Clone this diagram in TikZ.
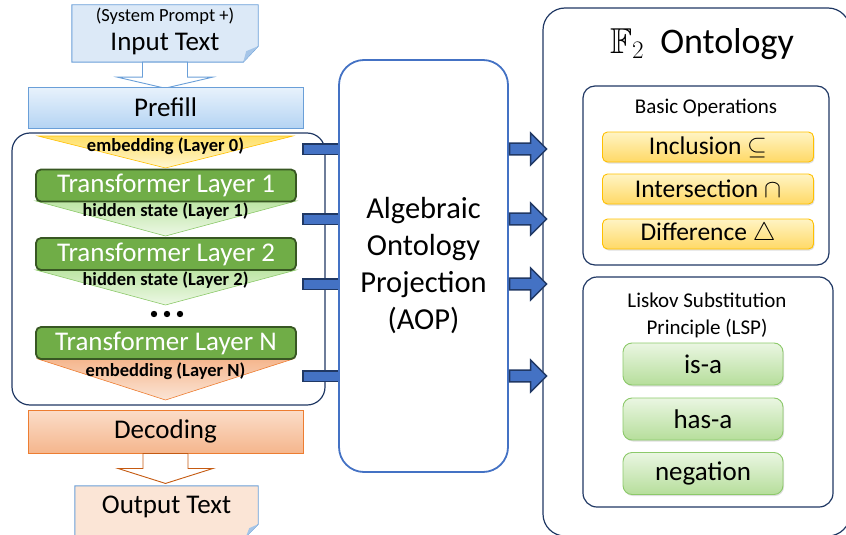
\RequirePackage{fix-cm}
\documentclass[tikz,border=0pt]{standalone}
\usepackage{amsmath,amssymb}
\usepackage{fontspec}
\setmainfont{Carlito}
\usepackage{tikz}
\usetikzlibrary{arrows.meta,positioning,shapes.arrows,shadows}
\definecolor{navy}{HTML}{203864}
\definecolor{docline}{HTML}{6A9FD8}
\definecolor{docfill}{HTML}{DCE9F7}
\definecolor{outfill}{HTML}{FBE5D6}
\definecolor{pretop}{HTML}{E8F2FC}
\definecolor{prebot}{HTML}{B5D4F3}
\definecolor{aopline}{HTML}{4472C4}
\definecolor{barblue}{HTML}{4472C4}
\definecolor{leaf}{HTML}{70AD47}
\definecolor{leafdark}{HTML}{385723}
\definecolor{gold}{HTML}{FFC000}
\definecolor{goldtop}{HTML}{FFF4C4}
\definecolor{goldbot}{HTML}{FFD966}
\definecolor{embtop}{HTML}{FFE066}
\definecolor{embbot}{HTML}{FFF6D2}
\definecolor{hidtop}{HTML}{BDE5A4}
\definecolor{hidbot}{HTML}{EDF8E6}
\definecolor{hidline}{HTML}{8CC96A}
\definecolor{rust}{HTML}{ED7D31}
\definecolor{rustdark}{HTML}{C55A11}
\definecolor{peachtop}{HTML}{FBDDC9}
\definecolor{peachbot}{HTML}{F5B68D}
\definecolor{mint}{HTML}{EAF6E2}
\definecolor{mintbot}{HTML}{B6DE9B}

\begin{document}
\begin{tikzpicture}[x=1pt,y=-1pt,
  every node/.style={inner sep=0pt},
  smalltxt/.style={font=\fontsize{18.5}{21}\selectfont},
  bigtxt/.style={font=\fontsize{27}{30}\selectfont},
  statetxt/.style={font=\fontsize{18.5}{20}\selectfont\bfseries},
  headtxt/.style={font=\fontsize{21}{27}\selectfont,align=center},
  band/.style={draw=docline,line width=0.9pt,minimum width=275pt,bigtxt},
  layerbox/.style={draw=leafdark,fill=leaf,line width=1.8pt,rounded corners=5pt,
                   minimum width=260pt,minimum height=32pt,text=white,bigtxt},
  groupbox/.style={draw=navy,line width=1.2pt,rounded corners=#1},
  opbox/.style={draw=gold,line width=0.9pt,rounded corners=5pt,top color=goldtop,
                bottom color=goldbot,minimum width=211pt,minimum height=30pt,
                font=\fontsize{25.5}{28}\selectfont,
                drop shadow={shadow xshift=1pt,shadow yshift=-1.5pt,opacity=0.25}},
  relbox/.style={draw=hidline,line width=0.9pt,rounded corners=9pt,top color=mint,
                 bottom color=mintbot,minimum width=160pt,minimum height=42pt,bigtxt,
                 drop shadow={shadow xshift=1pt,shadow yshift=-1.5pt,opacity=0.25}},
  hollow/.style={fill=white,line width=0.9pt,line join=miter},
  bluebar/.style={draw=navy,line width=12pt,
                  postaction={draw=barblue,line width=9pt,shorten <=1.5pt}},
  fatarrow/.style={single arrow,draw=navy,fill=barblue,line width=1.4pt,inner sep=5pt,
                   minimum height=37pt,minimum width=32pt,single arrow head extend=10pt}
]
\useasboundingbox (0,0) rectangle (846,535);
\clip (0,0) rectangle (846,535);

% input document
\node[minimum width=186pt,minimum height=57pt] (input) at (165,33.5) {};
\draw[draw=docline,fill=docfill,line width=0.9pt]
  (input.north west) -- (input.north east) -- ([yshift=16pt]input.south east)
  -- ([xshift=-15pt]input.south east) -- (input.south west) -- cycle;
\fill[docline!60] ([yshift=16pt]input.south east) -- ([xshift=-15pt]input.south east)
  -- ([xshift=-12pt,yshift=11pt]input.south east) -- cycle;
\node[smalltxt] (prompt) at (165,16) {(System Prompt +)};
\node[bigtxt] (inputtxt) at (165,44) {Input Text};
\draw[hollow,draw=docline] ([xshift=-22.5pt]input.south) -- ++(0,15) -- ++(-25,0)
  -- ++(47.5,11) -- ++(47.5,-11) -- ++(-25,0) -- ++(0,-15) -- cycle;
\node[band,minimum height=41pt,top color=pretop,bottom color=prebot] (prefill) at (165.5,107.5) {Prefill};

% layer stack
\node[groupbox=18pt,minimum width=313pt,minimum height=272pt] (stack) at (168.5,269) {};
\draw[draw=gold,line width=0.6pt,top color=embtop,bottom color=embbot]
  (38,136) -- (293,136) -- (165.5,168) -- cycle;
\draw[draw=hidline,line width=0.6pt,top color=hidtop,bottom color=hidbot]
  (36,201) -- (296,201) -- (165.5,236) -- cycle;
\draw[draw=hidline,line width=0.6pt,top color=hidtop,bottom color=hidbot]
  (36,270) -- (296,270) -- (165.5,305) -- cycle;
\draw[draw=rust,line width=0.6pt,top color=peachbot,bottom color=outfill]
  (38,359) -- (293,359) -- (165.5,400) -- cycle;
\node[statetxt] (emb0) at (165.5,146) {embedding (Layer 0)};
\node[layerbox] (layer1) at (166,185.5) {Transformer Layer 1};
\node[statetxt] (hid1) at (165.5,211) {hidden state (Layer 1)};
\node[layerbox] (layer2) at (166,254) {Transformer Layer 2};
\node[statetxt] (hid2) at (165.5,280) {hidden state (Layer 2)};
\fill (154,314) circle (3.2) (167,314) circle (3.2) (180,314) circle (3.2);
\node[layerbox] (layerN) at (166,343) {Transformer Layer N};
\node[statetxt] (embN) at (165.5,371) {embedding (Layer N)};

% decoding and output
\node[band,draw=rust,minimum height=43pt,top color=peachtop,bottom color=peachbot] (decoding) at (165.5,431.5) {Decoding};
\draw[hollow,draw=rustdark] ([xshift=-22.5pt]decoding.south) -- ++(0,15) -- ++(-25,0)
  -- ++(47.5,15) -- ++(47.5,-15) -- ++(-25,0) -- ++(0,-15) -- cycle;
\node[minimum width=183pt,minimum height=50pt] (output) at (166.5,511) {};
\draw[draw=docline,fill=outfill,line width=0.9pt]
  (output.north west) -- (output.north east) -- ([yshift=12pt]output.south east)
  -- ([xshift=-12pt]output.south east) -- (output.south west) -- cycle;
\fill[docline!60] ([yshift=12pt]output.south east) -- ([xshift=-12pt]output.south east)
  -- ([xshift=-9pt,yshift=8pt]output.south east) -- cycle;
\node[bigtxt] (outputtxt) at (166.5,507) {Output Text};

% projection
\node[draw=aopline,fill=white,line width=1.8pt,rounded corners=25pt,minimum width=169pt,
      minimum height=412pt,align=center,font=\fontsize{30.5}{37}\selectfont]
      (aop) at (423.5,266) {Algebraic\\Ontology\\Projection\\(AOP)};

% ontology side
\node[groupbox=22pt,minimum width=307pt,minimum height=528pt] (onto) at (696.5,272) {};
\node[font=\fontsize{36}{40}\selectfont] (ontotitle) at (702,44) {$\mathbb{F}_2$\hspace{0.45em}Ontology};
\node[groupbox=12pt,minimum width=246pt,minimum height=179pt] (basic) at (706,175.5) {};
\node[headtxt] (basictitle) at (706,108) {Basic Operations};
\node[opbox] (incl) at (708,147) {Inclusion $\subseteq$};
\node[opbox] (inter) at (708,189) {Intersection $\cap$};
\node[opbox] (diff) at (708,234) {Difference $\triangle$};
\node[groupbox=14pt,minimum width=250pt,minimum height=230pt] (lsp) at (708,392) {};
\node[headtxt] (lsptitle) at (707,315.5) {Liskov Substitution\\Principle (LSP)};
\node[relbox] (isa) at (703,364) {is-a};
\node[relbox] (hasa) at (703,419) {has-a};
\node[relbox] (neg) at (703,473.5) {negation};

% taps into AOP and arrows out
\coordinate (tap0) at (302,149);
\coordinate (tap1) at (302,219);
\coordinate (tap2) at (302,284);
\coordinate (tapN) at (302,376);
\draw[bluebar] (tap0) -- (aop.west |- tap0);
\draw[bluebar] (tap1) -- (aop.west |- tap1);
\draw[bluebar] (tap2) -- (aop.west |- tap2);
\draw[bluebar] (tapN) -- (aop.west |- tapN);
\node[fatarrow,anchor=tail] (out0) at (aop.east |- tap0) {};
\node[fatarrow,anchor=tail] (out1) at (aop.east |- tap1) {};
\node[fatarrow,anchor=tail] (out2) at (aop.east |- tap2) {};
\node[fatarrow,anchor=tail] (outN) at (aop.east |- tapN) {};
\end{tikzpicture}
\end{document}
